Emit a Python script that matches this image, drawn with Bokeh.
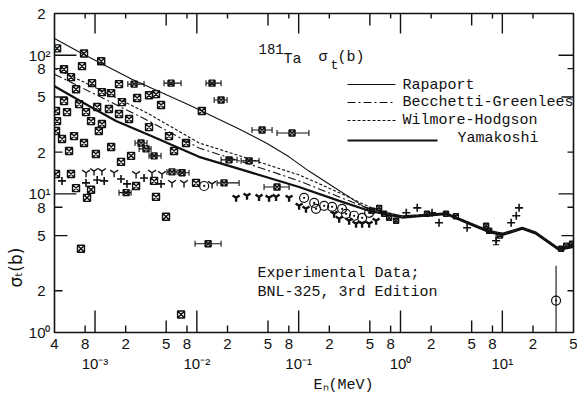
import math
from bokeh.plotting import figure
from bokeh.models import (Range1d, LinearScale, FixedTicker, LogAxis, Label, Whisker, Title,
                          TeeHead, ColumnDataSource, CustomJSTickFormatter)
from bokeh.embed import file_html
from bokeh.resources import INLINE

# ---------------- axis ticks ----------------
x_tick_vals = [4e-4, 8e-4, 2e-3, 5e-3, 8e-3, 2e-2, 5e-2, 8e-2, 0.2, 0.5, 0.8, 2, 5, 8, 20, 50]
x_tick_text = ["4", "8", "2", "5", "8", "2", "5", "8", "2", "5", "8", "2", "5", "8", "2", "5"]
x_decade_vals = [1e-3, 1e-2, 1e-1, 1, 10]
x_decade_text = ["10\u207b\u00b3", "10\u207b\u00b2", "10\u207b\u00b9", "10\u2070", "10\u00b9"]
y_tick_vals = [1, 2, 5, 8, 10, 20, 50, 80, 100, 200]
y_tick_text = ["10\u2070", "2\u2004", "5\u2004", "8\u2004", "10\u00b9", "2\u2004", "5\u2004", "8\u2004", "10\u00b2", "2\u2004"]
x_long = [1e-3, 1e-2, 1e-1, 1, 10]
x_mid = [5e-3, 5e-2, 0.5, 5]
x_short = [8e-4, 2e-3, 8e-3, 2e-2, 8e-2, 0.2, 0.8, 2, 8, 20]
y_long = [10, 100]
y_mid = [5, 50]
y_short = [2, 8, 20, 80]

# ---------------- model curves ----------------
rap_E = [4.0e-4, 7.45e-4, 2.3e-3, 8.4e-3, 2.6e-2, 4.8e-2, 8.05e-2, 0.126, 0.213, 0.335, 0.438, 0.551,
         0.77, 1.04, 1.52, 2.8, 4.7, 7.4, 10.0, 15.7, 21.5, 36.0, 50.0]
rap_s = [132, 103, 67.2, 43.7, 29.4, 23.3, 18.5, 14.6, 11.4, 9.2, 8.06, 7.67,
         7.25, 6.95, 7.05, 7.3, 6.25, 5.45, 5.2, 5.75, 5.3, 4.05, 4.3]

wh_E = [4.0e-4, 1.09e-3, 3.39e-3, 1.05e-2, 3.26e-2, 0.101, 0.25, 0.492, 0.773,
        1.04, 1.52, 2.8, 4.7, 7.4, 10.0, 15.7, 21.5, 36.0, 50.0]
wh_s = [80.6, 56.9, 37.7, 23.3, 17.9, 13.7, 10.2, 8.06, 7.30,
        6.85, 7.0, 7.25, 6.2, 5.4, 5.15, 5.7, 5.25, 4.0, 4.25]

bg_E = [4.0e-4, 1.09e-3, 3.39e-3, 1.05e-2, 3.26e-2, 0.101, 0.25, 0.492, 0.773,
        1.04, 1.52, 2.8, 4.7, 7.4, 10.0, 15.7, 21.5, 36.0, 50.0]
bg_s = [73.0, 50.7, 33.5, 21.4, 16.4, 12.4, 9.51, 7.80, 7.18,
        6.8, 6.95, 7.2, 6.15, 5.35, 5.1, 5.65, 5.2, 3.95, 4.2]

yam_E = [4.0e-4, 8.73e-4, 1.61e-3, 3.39e-3, 1.05e-2, 3.26e-2, 0.101, 0.25, 0.492, 0.773,
         1.04, 1.52, 2.8, 4.7, 7.4, 10.0, 15.7, 21.5, 36.0, 50.0]
yam_s = [59.8, 43.0, 33.5, 26.6, 18.5, 14.4, 11.2, 8.9, 7.55, 7.06,
         6.75, 6.9, 7.15, 6.1, 5.3, 5.05, 5.6, 5.15, 3.95, 4.15]

# ---------------- experimental data ----------------
sq_E = [4.24e-4, 7.80e-4, 1.15e-3, 4.96e-4, 7.45e-4, 5.81e-4, 9.35e-4, 1.72e-3, 6.51e-4, 1.17e-3,
        1.44e-3, 2.59e-3, 3.39e-3, 3.97e-3, 4.45e-3, 1.84e-3, 4.96e-4, 6.97e-4, 1.05e-3, 1.37e-3,
        1.72e-3, 2.16e-3, 4.14e-4, 5.31e-4, 8.16e-4, 4.24e-4, 9.14e-4, 1.17e-3, 1.09e-3, 3.39e-3,
        4.14e-4, 6.22e-4, 4.74e-4, 5.33e-3, 1.12e-2, 7.80e-4, 1.44e-3, 5.56e-4, 1.02e-3, 1.80e-3,
        2.26e-3, 5.97e-3, 7.83e-3, 4.14e-4, 5.81e-4, 3.80e-3, 9.82e-3, 6.51e-4, 9.14e-4, 8.35e-4,
        2.53e-3, 3.97e-3, 4.98e-3, 7.28e-4, 7.00e-3]
sq_s = [112, 103, 90.5, 79.3, 83.4, 69.5, 62.9, 61.9, 56.9, 54.2,
        53.3, 49.1, 51.5, 52.4, 43.7, 45.9, 46.7, 44.4, 42.3, 40.9,
        37.7, 34.7, 39.6, 38.9, 38.9, 33.5, 33.5, 31.9, 28.4, 30.3,
        28.4, 26.1, 24.9, 26.1, 39.6, 23.3, 21.8, 20.4, 19.4, 17.0,
        18.8, 20.4, 23.3, 13.9, 13.9, 12.4, 12.0, 11.0, 10.7, 9.36,
        11.4, 9.51, 6.84, 4.02, 1.35]

eb_E = [2.42e-3, 5.58e-3, 1.41e-2, 1.73e-2, 2.83e-3, 3.17e-3, 3.80e-3, 5.70e-3, 7.16e-3,
        4.37e-2, 8.61e-2, 2.07e-2, 3.26e-2, 6.13e-2, 1.85e-2, 2.02e-3, 1.29e-2]
eb_s = [61.9, 62.9, 62.9, 47.5, 23.3, 21.1, 18.8, 14.4, 14.2,
        28.9, 27.5, 17.6, 17.3, 11.2, 12.0, 10.2, 4.37]
eb_lo = [2.10e-3, 4.76e-3, 1.23e-2, 1.48e-2, 2.47e-3, 2.71e-3, 3.39e-3, 5.09e-3, 6.68e-3,
         3.48e-2, 6.13e-2, 1.73e-2, 2.72e-2, 4.57e-2, 1.58e-2, 1.72e-3, 9.60e-3]
eb_hi = [3.03e-3, 7.00e-3, 1.73e-2, 1.98e-2, 3.24e-3, 3.55e-3, 4.45e-3, 6.40e-3, 8.38e-3,
         5.48e-2, 0.126, 2.48e-2, 4.08e-2, 8.05e-2, 2.60e-2, 2.26e-3, 1.73e-2]

yo_E = [8.16e-4, 9.78e-4, 1.17e-3, 1.54e-3, 2.53e-3, 3.63e-3, 4.55e-3, 5.70e-3, 7.48e-3, 1.41e-2]
yo_s = [14.2, 14.6, 14.6, 14.2, 13.9, 14.2, 13.9, 12.0, 12.0, 11.8]

pl_E = [4.74e-4, 8.16e-4, 1.05e-3, 1.23e-3, 1.80e-3, 2.06e-3, 3.03e-3, 4.45e-3,
        1.46, 1.14, 13.7, 14.6, 12.2, 4.51, 2.39, 2.04, 8.69]
pl_s = [12.4, 12.0, 12.6, 12.4, 12.8, 11.8, 13.0, 11.8,
        7.93, 7.30, 6.95, 7.93, 6.19, 5.69, 6.19, 7.30, 4.59]

cd_E = [1.18e-2, 0.113, 0.142, 0.148, 0.178, 0.213, 0.267, 0.292, 0.350, 0.420, 0.492, 33.7]
cd_s = [11.4, 9.36, 8.61, 7.80, 8.20, 8.06, 7.80, 7.18, 6.95, 6.72, 7.30, 1.70]

yf_E = [2.43e-2, 3.11e-2, 4.08e-2, 5.12e-2, 6.00e-2, 8.05e-2, 0.101, 0.118, 0.223, 0.250,
        0.313, 0.366, 0.420, 0.492, 0.576]
yf_s = [9.36, 9.68, 9.51, 9.36, 9.51, 9.36, 8.20, 7.80, 7.18, 6.61,
        6.40, 6.09, 6.09, 6.09, 6.40]

sq2_E = [0.526, 0.617, 0.690, 0.773, 0.906, 1.82, 2.80, 3.5, 6.93, 7.42, 9.5, 37.8, 42.4, 48.5]
sq2_s = [7.55, 7.93, 7.18, 6.72, 6.40, 7.18, 7.18, 6.9, 5.89, 5.42, 5.0, 4.02, 4.23, 4.37]

veb_E = [33.7, 8.69]
veb_lo = [1.0, 4.3]
veb_hi = [3.03, 5.1]

# ---------------- figure ----------------
FW, FH = 519, 319
p = figure(width=577, height=400, x_axis_type="log", y_axis_type="log",
           x_range=Range1d(4e-4, 50), y_range=Range1d(1, 200),
           output_backend="svg", toolbar_location=None,
           min_border_left=54, min_border_right=4, min_border_top=13, min_border_bottom=68)
p.extra_x_ranges = {"px": Range1d(0, FW)}
p.extra_x_scales = {"px": LinearScale()}
p.extra_y_ranges = {"py": Range1d(0, FH)}
p.extra_y_scales = {"py": LinearScale()}
p.grid.visible = False
p.outline_line_color = "#111111"
p.outline_line_width = 1.6
p.background_fill_color = "white"
p.border_fill_color = "white"

def fmt(vals, txt):
    return CustomJSTickFormatter(args=dict(vals=vals, txt=txt), code="""
        for (let i = 0; i < vals.length; i++) {
            if (Math.abs(Math.log10(tick) - Math.log10(vals[i])) < 1e-6) return txt[i];
        }
        return "";
    """)

TICK_FONT = "Liberation Sans"
INK = "#111111"
MONO = "Liberation Mono"
xa = p.xaxis[0]
xa.ticker = FixedTicker(ticks=x_tick_vals, minor_ticks=[])
xa.formatter = fmt(x_tick_vals, x_tick_text)
ya = p.yaxis[0]
ya.ticker = FixedTicker(ticks=y_tick_vals, minor_ticks=[])
ya.formatter = fmt(y_tick_vals, y_tick_text)
for ax in (xa, ya):
    ax.major_tick_in = 0
    ax.major_tick_out = 0
    ax.minor_tick_in = 0
    ax.minor_tick_out = 0
    ax.axis_line_color = None
    ax.major_label_text_font = TICK_FONT
    ax.major_label_text_font_size = "15px"
    ax.major_label_text_color = INK
xa.major_label_standoff = 6
ya.major_label_standoff = 4

xa2 = LogAxis(ticker=FixedTicker(ticks=x_decade_vals, minor_ticks=[]),
              formatter=fmt(x_decade_vals, x_decade_text),
              major_tick_in=0, major_tick_out=0, minor_tick_in=0, minor_tick_out=0,
              axis_line_color=None, major_label_standoff=3,
              major_label_text_font=TICK_FONT, major_label_text_font_size="15px",
              major_label_text_color=INK)
p.add_layout(xa2, "below")

# axis titles
p.add_layout(Title(text="E\u2099(MeV)", align="left", offset=259, standoff=0,
                   text_font=MONO, text_font_size="15px", text_font_style="normal",
                   text_color=INK), "below")
p.add_layout(Title(text="\u03c3\u209c(b)", align="left", offset=45, standoff=0,
                   text_font="DejaVu Sans", text_font_size="17px", text_font_style="normal",
                   text_color=INK), "left")

# ---------------- tick marks (inside) ----------------
TK = dict(line_color=INK, line_width=1.4)
p.segment(x0=x_long, y0=0, x1=x_long, y1=22, y_range_name="py", **TK)
p.segment(x0=x_mid, y0=0, x1=x_mid, y1=12, y_range_name="py", **TK)
p.segment(x0=x_short, y0=0, x1=x_short, y1=7, y_range_name="py", **TK)
p.segment(x0=x_long, y0=FH, x1=x_long, y1=FH - 20, y_range_name="py", **TK)
p.segment(x0=x_mid, y0=FH, x1=x_mid, y1=FH - 12, y_range_name="py", **TK)
p.segment(x0=x_short, y0=FH, x1=x_short, y1=FH - 5, y_range_name="py", **TK)
p.segment(x0=0, y0=y_long, x1=22, y1=y_long, x_range_name="px", **TK)
p.segment(x0=0, y0=y_mid, x1=13, y1=y_mid, x_range_name="px", **TK)
p.segment(x0=0, y0=y_short, x1=8, y1=y_short, x_range_name="px", **TK)
p.segment(x0=FW, y0=y_long, x1=FW - 15, y1=y_long, x_range_name="px", **TK)
p.segment(x0=FW, y0=y_mid, x1=FW - 12, y1=y_mid, x_range_name="px", **TK)
p.segment(x0=FW, y0=y_short, x1=FW - 6, y1=y_short, x_range_name="px", **TK)

# ---------------- curves ----------------
p.line(rap_E, rap_s, line_color=INK, line_width=1.1)
p.line(bg_E, bg_s, line_color=INK, line_width=1.1, line_dash="8 3 2 3")
p.line(wh_E, wh_s, line_color=INK, line_width=1.1, line_dash="3 2")
p.line(yam_E, yam_s, line_color=INK, line_width=2.2)

# ---------------- data ----------------
src = ColumnDataSource(dict(base=eb_s, lower=eb_lo, upper=eb_hi))
p.add_layout(Whisker(source=src, base="base", lower="lower", upper="upper", dimension="width",
                     line_color=INK, line_width=1.1,
                     upper_head=TeeHead(size=6, line_color=INK, line_width=1.1),
                     lower_head=TeeHead(size=6, line_color=INK, line_width=1.1)))
vsrc = ColumnDataSource(dict(base=veb_E, lower=veb_lo, upper=veb_hi))
p.add_layout(Whisker(source=vsrc, base="base", lower="lower", upper="upper", dimension="height",
                     line_color=INK, line_width=1.1, upper_head=None,
                     lower_head=TeeHead(size=6, line_color=INK, line_width=1.1)))

p.scatter(sq_E, sq_s, marker="square_x", size=7, line_color=INK, fill_color=None, line_width=1.4)
p.scatter(eb_E, eb_s, marker="square_x", size=6, line_color=INK, fill_color=None, line_width=1.4)
p.scatter(sq2_E, sq2_s, marker="square_x", size=5, line_color=INK, fill_color=None, line_width=1.4)
p.scatter(yo_E, yo_s, marker="y", size=9, line_color=INK, line_width=1.4)
p.scatter(pl_E, pl_s, marker="cross", size=8, line_color=INK, line_width=1.6)
p.scatter(cd_E, cd_s, marker="circle_dot", size=9, line_color=INK, fill_color=None, line_width=1.2)
p.scatter(yf_E, yf_s, marker="y", size=8, line_color=INK, line_width=2.4)

# ---------------- legend (drawn) ----------------
leg_y = [248, 230, 212, 192]
p.segment(x0=293, y0=leg_y[0], x1=341, y1=leg_y[0], x_range_name="px", y_range_name="py",
          line_color=INK, line_width=1.1)
p.segment(x0=293, y0=leg_y[1], x1=341, y1=leg_y[1], x_range_name="px", y_range_name="py",
          line_color=INK, line_width=1.1, line_dash="8 3 2 3")
p.segment(x0=293, y0=leg_y[2], x1=341, y1=leg_y[2], x_range_name="px", y_range_name="py",
          line_color=INK, line_width=1.1, line_dash="3 2")
p.segment(x0=293, y0=leg_y[3], x1=383, y1=leg_y[3], x_range_name="px", y_range_name="py",
          line_color=INK, line_width=2.2)

def lab(x, y, text, size="15px", font=MONO, align="left", angle=0.0):
    p.add_layout(Label(x=x, y=y, x_range_name="px", y_range_name="py", text=text,
                       text_font=font, text_font_size=size, text_color=INK,
                       text_baseline="middle", text_align=align, angle=angle))

lab(348, 247, "Rapaport")
lab(348, 230, "Becchetti-Greenlees")
lab(348, 212, "Wilmore-Hodgson")
lab(403, 194, "Yamakoshi")

lab(204, 284, "181", size="14px")
lab(229, 273, "Ta")
lab(264, 275, "\u03c3")
lab(276, 267, "t", size="13px")
lab(283, 275, "(b)")

lab(203, 59, "Experimental Data;")
lab(203, 40, "BNL-325, 3rd Edition")

open("out.html", "w").write(file_html(p, INLINE))
